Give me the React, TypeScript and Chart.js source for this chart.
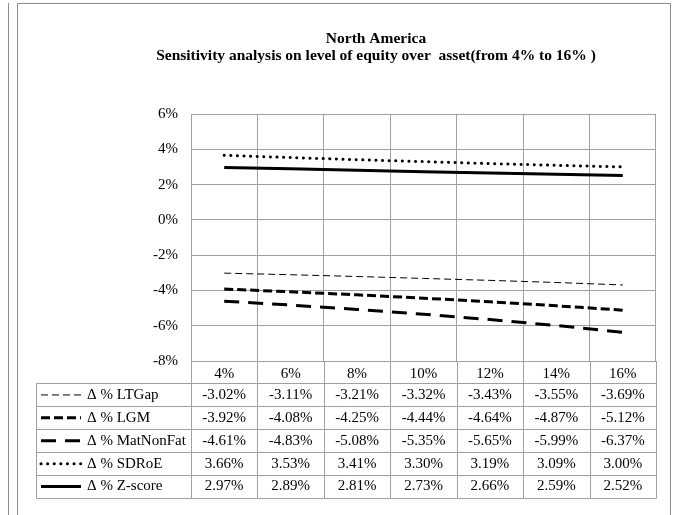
import React, { useEffect, useRef } from "react";
import { Chart, registerables } from "chart.js";

Chart.register(...registerables);

const categories = ["4%", "6%", "8%", "10%", "12%", "14%", "16%"];
const ltGap = [-3.02, -3.11, -3.21, -3.32, -3.43, -3.55, -3.69];
const lgm = [-3.92, -4.08, -4.25, -4.44, -4.64, -4.87, -5.12];
const matNonFat = [-4.61, -4.83, -5.08, -5.35, -5.65, -5.99, -6.37];
const sdRoE = [3.66, 3.53, 3.41, 3.3, 3.19, 3.09, 3.0];
const zScore = [2.97, 2.89, 2.81, 2.73, 2.66, 2.59, 2.52];
const seriesNames = ["Δ % LTGap", "Δ % LGM", "Δ % MatNonFat", "Δ % SDRoE", "Δ % Z-score"];
const titleLines = ["North America", "Sensitivity analysis on level of equity over  asset(from 4% to 16% )"];
const yMin = -8;
const yMax = 6;
const yStep = 2;

const seriesValues = [ltGap, lgm, matNonFat, sdRoE, zScore];
const styles = [
  { width: 1, dash: [7, 4], cap: "butt" },
  { width: 3, dash: [9, 4], cap: "butt" },
  { width: 3, dash: [15, 9], cap: "butt" },
  { width: 3, dash: [0.1, 6.5], cap: "round" },
  { width: 3, dash: [], cap: "butt" },
];

const GRID = "#a0a0a0";
const FONT = "'Liberation Serif', 'Times New Roman', serif";

export default function App() {
  const ref = useRef<HTMLCanvasElement | null>(null);
  useEffect(() => {
    if (!ref.current) return;
    const tablePlugin = {
      id: "tablePlugin",
      afterDraw(chart: any) {
        const ctx = chart.ctx as CanvasRenderingContext2D;
        const area = chart.chartArea;
        const n = categories.length;
        const colW = (area.right - area.left) / n;
        const rowH = 22.9;
        const headTop = area.bottom;
        const rowsTop = headTop + 22;
        const tableBottom = rowsTop + rowH * seriesNames.length;
        const legendLeft = 36;
        const al = (v: number) => Math.round(v) + 0.5;
        ctx.save();
        // frame
        ctx.strokeStyle = "#8c8c8c";
        ctx.lineWidth = 1;
        ctx.beginPath();
        ctx.moveTo(al(8), 3);
        ctx.lineTo(al(8), 515);
        ctx.moveTo(al(17), 515);
        ctx.lineTo(al(17), al(3));
        ctx.lineTo(al(670), al(3));
        ctx.lineTo(al(670), 515);
        ctx.stroke();
        // title
        ctx.fillStyle = "#000";
        ctx.font = "bold 15.5px " + FONT;
        ctx.textAlign = "center";
        ctx.textBaseline = "middle";
        ctx.fillText(titleLines[0], 376, 39);
        ctx.fillText(titleLines[1], 376, 56);
        // table grid
        ctx.strokeStyle = GRID;
        ctx.lineWidth = 1;
        ctx.beginPath();
        for (let i = 0; i <= n; i++) {
          const x = al(area.left + colW * i);
          ctx.moveTo(x, headTop);
          ctx.lineTo(x, al(tableBottom));
        }
        ctx.moveTo(al(legendLeft), al(rowsTop));
        ctx.lineTo(al(legendLeft), al(tableBottom));
        for (let r = 0; r <= seriesNames.length; r++) {
          const y = al(rowsTop + rowH * r);
          ctx.moveTo(al(legendLeft), y);
          ctx.lineTo(al(area.right), y);
        }
        ctx.stroke();
        // cells
        ctx.font = "15px " + FONT;
        ctx.fillStyle = "#000";
        for (let r = 0; r < seriesNames.length; r++) {
          const cy = rowsTop + rowH * r + rowH / 2 + 0.5;
          ctx.textAlign = "center";
          for (let i = 0; i < n; i++) {
            const cx = area.left + colW * (i + 0.5);
            ctx.fillText(seriesValues[r][i].toFixed(2) + "%", cx, cy);
          }
          ctx.textAlign = "left";
          ctx.fillText(seriesNames[r], 87, cy);
          const st = styles[r];
          ctx.save();
          ctx.strokeStyle = "#000";
          ctx.lineWidth = st.width;
          ctx.lineCap = st.cap as CanvasLineCap;
          ctx.setLineDash(st.dash);
          ctx.beginPath();
          ctx.moveTo(41, cy);
          ctx.lineTo(81, cy);
          ctx.stroke();
          ctx.restore();
        }
        ctx.restore();
      },
    };
    const chart = new Chart(ref.current, {
      type: "line",
      data: {
        labels: categories,
        datasets: seriesValues.map((vals, i) => ({
          label: seriesNames[i],
          data: vals,
          borderColor: "#000",
          borderWidth: styles[i].width,
          borderDash: styles[i].dash,
          borderCapStyle: styles[i].cap as any,
          pointRadius: 0,
          fill: false,
          tension: 0,
        })),
      },
      options: {
        responsive: false,
        animation: false,
        events: [],
        layout: { padding: { top: 114, right: 19, left: 0, bottom: 0 } },
        plugins: { legend: { display: false }, title: { display: false }, tooltip: { enabled: false } },
        scales: {
          x: {
            offset: true,
            grid: { offset: true, color: GRID, drawTicks: false },
            border: { color: GRID },
            ticks: { color: "#000", font: { family: FONT, size: 15 }, padding: 4, maxRotation: 0 },
            afterFit: (s: any) => {
              s.height = 154;
            },
          },
          y: {
            min: yMin,
            max: yMax,
            grid: { color: GRID, drawTicks: false },
            border: { color: GRID },
            ticks: {
              stepSize: yStep,
              color: "#000",
              font: { family: FONT, size: 15 },
              padding: 13,
              callback: (v: any) => v + "%",
            },
            afterFit: (s: any) => {
              s.width = 191;
            },
          },
        },
      },
      plugins: [tablePlugin],
    });
    return () => chart.destroy();
  }, []);
  return (
    <div style={{ position: "absolute", left: 0, top: 0, width: 675, height: 515, background: "#fff" }}>
      <canvas ref={ref} width={675} height={515} style={{ display: "block" }} />
    </div>
  );
}
